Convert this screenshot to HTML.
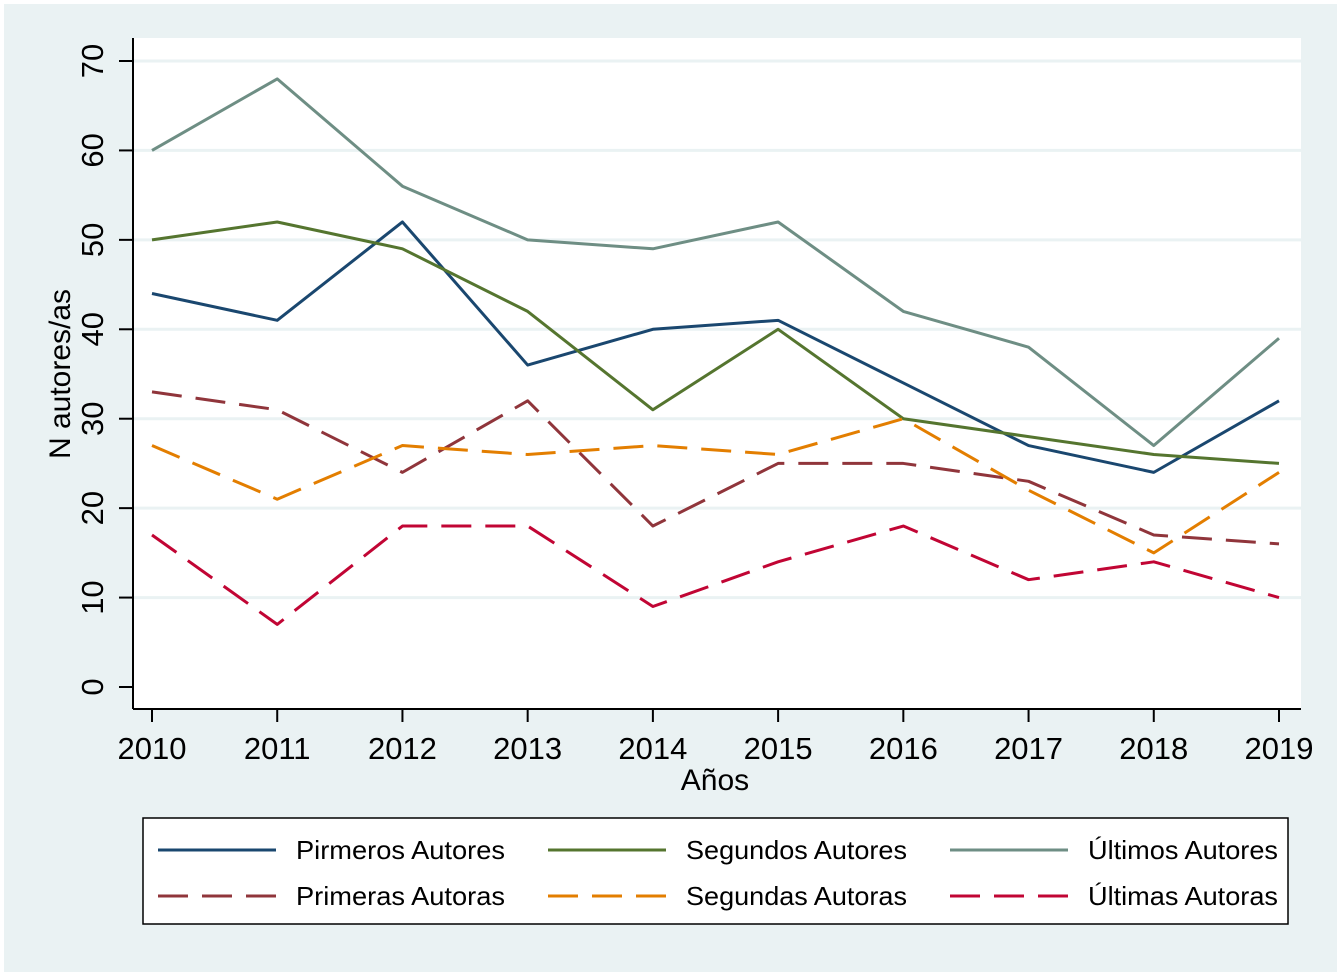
<!DOCTYPE html>
<html><head><meta charset="utf-8"><style>
body{margin:0;background:#fff;}
svg{display:block;font-family:"Liberation Sans",sans-serif;}
</style></head><body>
<svg id="c" width="1341" height="976">
<rect x="4" y="4" width="1333" height="968" fill="#eaf2f3"/>
<rect x="133" y="38" width="1168" height="671" fill="#fff"/>
<g id="grid"></g><g id="axes"></g><g id="series"></g>
<text x="715" y="790" font-size="30" text-anchor="middle">Años</text>
<text transform="translate(70,374) rotate(-90)" font-size="30" text-anchor="middle">N autores/as</text>
<rect x="143" y="818" width="1145" height="106" fill="#fff" stroke="#000" stroke-width="1.5"/>
<g id="legend"></g>
</svg>
<script>
const years=[2010,2011,2012,2013,2014,2015,2016,2017,2018,2019];
const yTicks=[0,10,20,30,40,50,60,70];
const pirmerosAutores=[44,41,52,36,40,41,34,27,24,32];
const segundosAutores=[50,52,49,42,31,40,30,28,26,25];
const ultimosAutores=[60,68,56,50,49,52,42,38,27,39];
const primerasAutoras=[33,31,24,32,18,25,25,23,17,16];
const segundasAutoras=[27,21,27,26,27,26,30,22,15,24];
const ultimasAutoras=[17,7,18,18,9,14,18,12,14,10];
const seriesNames=["Pirmeros Autores","Segundos Autores","Últimos Autores","Primeras Autoras","Segundas Autoras","Últimas Autoras"];
const seriesData=[pirmerosAutores,segundosAutores,ultimosAutores,primerasAutoras,segundasAutoras,ultimasAutoras];
const colors=["#1a476f","#55752f","#6e8e84","#90353b","#e37e00","#c10534"];
const dashed=[false,false,false,true,true,true];
const NS="http://www.w3.org/2000/svg";
const xs=y=>152+(y-2010)*(1279-152)/9;
const ys=v=>687-v*(687-61)/70;
function mk(t,a,p){const e=document.createElementNS(NS,t);for(const k in a)e.setAttribute(k,a[k]);p.appendChild(e);return e;}
const grid=document.getElementById('grid'),axes=document.getElementById('axes'),ser=document.getElementById('series'),leg=document.getElementById('legend');
yTicks.forEach(v=>{
  if(v>0){const g=mk('line',{x1:133,x2:1301,y1:ys(v),y2:ys(v),stroke:'#eaf2f3','stroke-width':3},grid);
  }
  const t=mk('line',{x1:119,x2:133,y1:ys(v),y2:ys(v),stroke:'#000','stroke-width':2},axes);
  
  const l=mk('text',{transform:`translate(103,${ys(v)}) rotate(-90)`,'font-size':31,'text-anchor':'middle'},axes);
  l.textContent=v;
});
let a=mk('line',{x1:133,x2:133,y1:38,y2:709,stroke:'#000','stroke-width':2},axes);

a=mk('line',{x1:133,x2:1301,y1:709,y2:709,stroke:'#000','stroke-width':2},axes);

years.forEach(y=>{
  const t=mk('line',{x1:xs(y),x2:xs(y),y1:709,y2:722,stroke:'#000','stroke-width':2},axes);
  
  const l=mk('text',{x:xs(y),y:759,'font-size':31,'text-anchor':'middle'},axes);
  l.textContent=y;
});
seriesData.forEach((d,i)=>{
  const p=mk('polyline',{points:d.map((v,j)=>xs(years[j])+','+ys(v)).join(' '),fill:'none',stroke:colors[i],'stroke-width':3,'stroke-linejoin':'round'},ser);
  if(dashed[i])p.setAttribute('stroke-dasharray','30 14');
  
  const c=i%3,r=Math.floor(i/3);
  const lx=[158,548,950][c],ly=850+r*46;
  const ll=mk('line',{x1:lx,x2:lx+118,y1:ly,y2:ly,stroke:colors[i],'stroke-width':3},leg);
  if(dashed[i])ll.setAttribute('stroke-dasharray','30 14');
  
  const lt=mk('text',{x:[505,907,1278][c],y:ly+9,'font-size':26,'text-anchor':'end',textLength:[209,221,190][c],lengthAdjust:'spacingAndGlyphs'},leg);
  lt.textContent=seriesNames[i];
});
</script>
</body></html>
